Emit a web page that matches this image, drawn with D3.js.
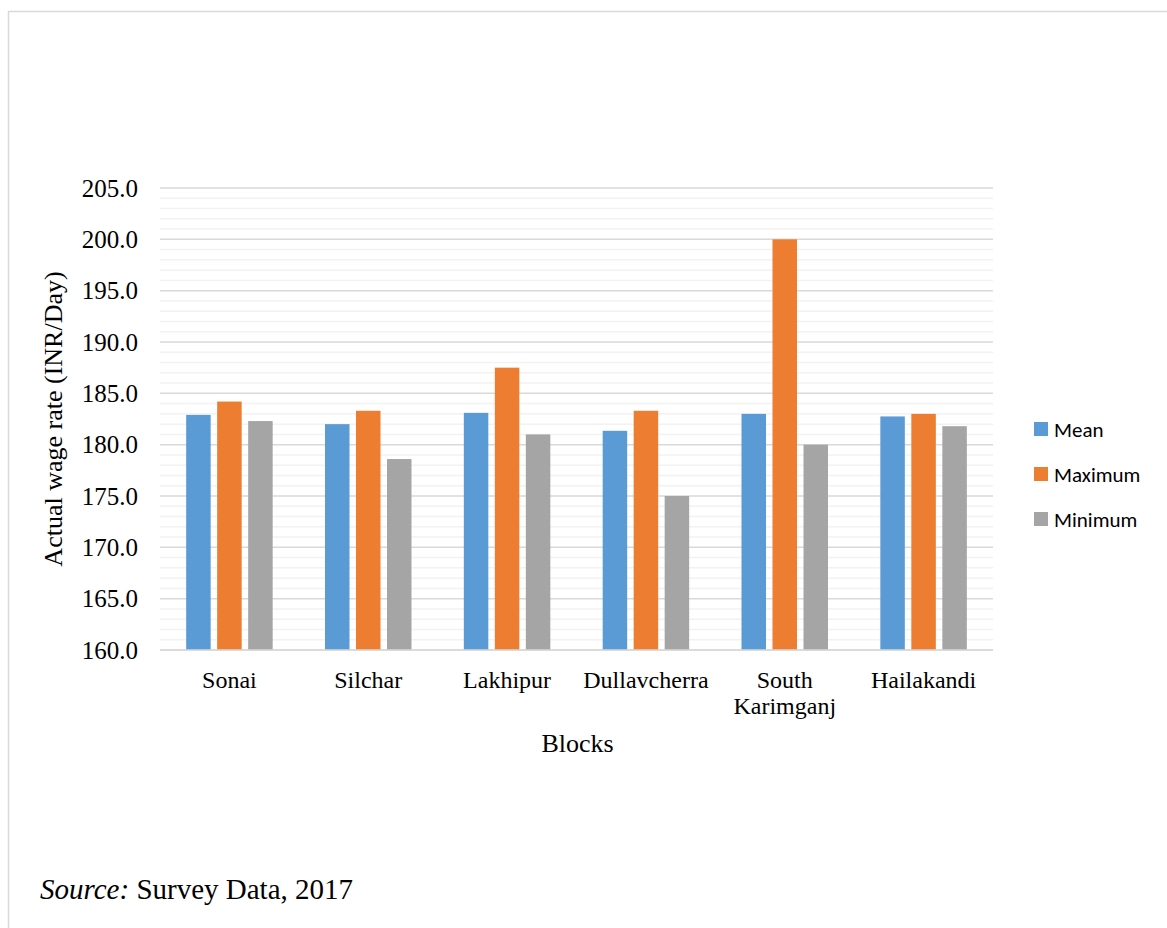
<!DOCTYPE html>
<html>
<head>
<meta charset="utf-8">
<script src="https://cdn.jsdelivr.net/npm/d3@7"></script>
<style>
  html, body { margin: 0; padding: 0; background: #fff; overflow: hidden; }
  svg { display: block; }
  .serif { font-family: "Liberation Serif", "Times New Roman", Times, "DejaVu Serif", serif; }
  .sans { font-family: Carlito, "Open Sans", "Noto Sans", sans-serif; }
</style>
</head>
<body>
<svg width="1167" height="928"></svg>
<script>
const svg = d3.select("svg");

const width = +svg.attr("width");
const height = +svg.attr("height");

// Data
const blocks = ["Sonai", "Silchar", "Lakhipur", "Dullavcherra", "South Karimganj", "Hailakandi"];
const seriesNames = ["Mean", "Maximum", "Minimum"];
const meanValues = [182.9, 182.0, 183.1, 181.35, 183.0, 182.75];
const maxValues = [184.2, 183.3, 187.5, 183.3, 200.0, 183.0];
const minValues = [182.3, 178.6, 181.0, 175.0, 180.0, 181.8];
const yTicks = [160, 165, 170, 175, 180, 185, 190, 195, 200, 205];
const colours = ["#5B9BD5", "#ED7D31", "#A5A5A5"];

// Outer frame (only top and left edges fall inside the picture)
svg.append("rect")
    .attr("x", 8.5).attr("y", 11.5)
    .attr("width", width + 20).attr("height", height + 20)
    .attr("fill", "none")
    .attr("stroke", "#d9d9d9")
    .attr("stroke-width", 1.5);

// Plot area
const plot = { left: 160, right: 993, top: 188, bottom: 650 };

const xScale = d3.scaleBand()
    .domain(blocks)
    .range([plot.left, plot.right]);

const yScale = d3.scaleLinear()
    .domain([160, 205])
    .range([plot.bottom, plot.top]);

// Bars inside each group
const barWidth = 24.5;
const barStep = 31;
const xInner = d3.scaleBand()
    .domain(seriesNames)
    .range([-(barStep * 3) / 2, (barStep * 3) / 2]);

// Minor gridlines every 1 unit
const minorTicks = d3.range(161, 205, 1).filter(v => v % 5 !== 0);
svg.append("g").selectAll("line").data(minorTicks)
    .enter().append("line")
    .attr("x1", plot.left).attr("x2", plot.right)
    .attr("y1", d => yScale(d)).attr("y2", d => yScale(d))
    .attr("stroke", "#f2f2f2")
    .attr("stroke-width", 1.5);

// Major gridlines
svg.append("g").selectAll("line").data(yTicks)
    .enter().append("line")
    .attr("x1", plot.left).attr("x2", plot.right)
    .attr("y1", d => yScale(d)).attr("y2", d => yScale(d))
    .attr("stroke", "#d9d9d9")
    .attr("stroke-width", 1.5);

// Y axis labels
const yAxis = d3.axisLeft(yScale)
    .tickValues(yTicks)
    .tickFormat(d3.format(".1f"))
    .tickSize(0)
    .tickPadding(22);

const yAxisG = svg.append("g")
    .attr("transform", `translate(${plot.left},0)`)
    .call(yAxis)
    .attr("font-family", null)
    .attr("font-size", null);
yAxisG.select(".domain").remove();
yAxisG.selectAll("text")
    .attr("class", "serif")
    .style("font-size", "25px")
    .attr("fill", "#000");

// Bars
const table = blocks.map((b, i) => ({
    block: b,
    values: [meanValues[i], maxValues[i], minValues[i]]
}));

const groups = svg.append("g").selectAll("g").data(table)
    .enter().append("g")
    .attr("transform", d => `translate(${xScale(d.block) + xScale.bandwidth() / 2},0)`);

groups.selectAll("rect")
    .data(d => d.values.map((v, j) => ({ name: seriesNames[j], value: v, j: j })))
    .enter().append("rect")
    .attr("x", d => xInner(d.name) + (barStep - barWidth) / 2)
    .attr("y", d => yScale(d.value))
    .attr("width", barWidth)
    .attr("height", d => yScale(160) - yScale(d.value))
    .attr("fill", d => colours[d.j]);

// Redraw base line over bars
svg.append("line")
    .attr("x1", plot.left).attr("x2", plot.right)
    .attr("y1", yScale(160)).attr("y2", yScale(160))
    .attr("stroke", "#d9d9d9")
    .attr("stroke-width", 1.5);

// X axis category labels (South Karimganj wraps)
const xLabels = svg.append("g").selectAll("text").data(blocks)
    .enter().append("text")
    .attr("class", "serif")
    .attr("x", d => xScale(d) + xScale.bandwidth() / 2)
    .attr("y", 688)
    .attr("text-anchor", "middle")
    .style("font-size", "24px")
    .attr("fill", "#000");

xLabels.each(function (d) {
    const words = d === "South Karimganj" ? ["South", "Karimganj"] : [d];
    const t = d3.select(this);
    words.forEach((w, k) => {
        t.append("tspan")
            .attr("x", xScale(d) + xScale.bandwidth() / 2)
            .attr("dy", k === 0 ? 0 : 26)
            .text(w);
    });
});

// Axis titles
svg.append("text")
    .attr("class", "serif")
    .attr("x", (plot.left + plot.right) / 2 + 1)
    .attr("y", 752)
    .attr("text-anchor", "middle")
    .style("font-size", "26px")
    .text("Blocks");

svg.append("text")
    .attr("class", "serif")
    .attr("transform", `translate(62,${(plot.top + plot.bottom) / 2}) rotate(-90)`)
    .attr("text-anchor", "middle")
    .style("font-size", "26px")
    .text("Actual wage rate (INR/Day)");

// Legend
const legend = svg.append("g").selectAll("g").data(seriesNames)
    .enter().append("g")
    .attr("transform", (d, i) => `translate(1034,${429 + i * 45})`);

legend.append("rect")
    .attr("x", 0).attr("y", -7)
    .attr("width", 14).attr("height", 14)
    .attr("fill", (d, i) => colours[i]);

legend.append("text")
    .attr("class", "sans")
    .attr("x", 20).attr("y", 0)
    .attr("dy", "0.36em")
    .style("font-size", "21px")
    .attr("fill", "#000")
    .text(d => d);

// Source note
const source = svg.append("text")
    .attr("class", "serif")
    .attr("x", 40).attr("y", 899)
    .style("font-size", "29px")
    .attr("fill", "#000");
source.append("tspan").attr("font-style", "italic").text("Source:");
source.append("tspan").text(" Survey Data, 2017");
</script>
</body>
</html>
